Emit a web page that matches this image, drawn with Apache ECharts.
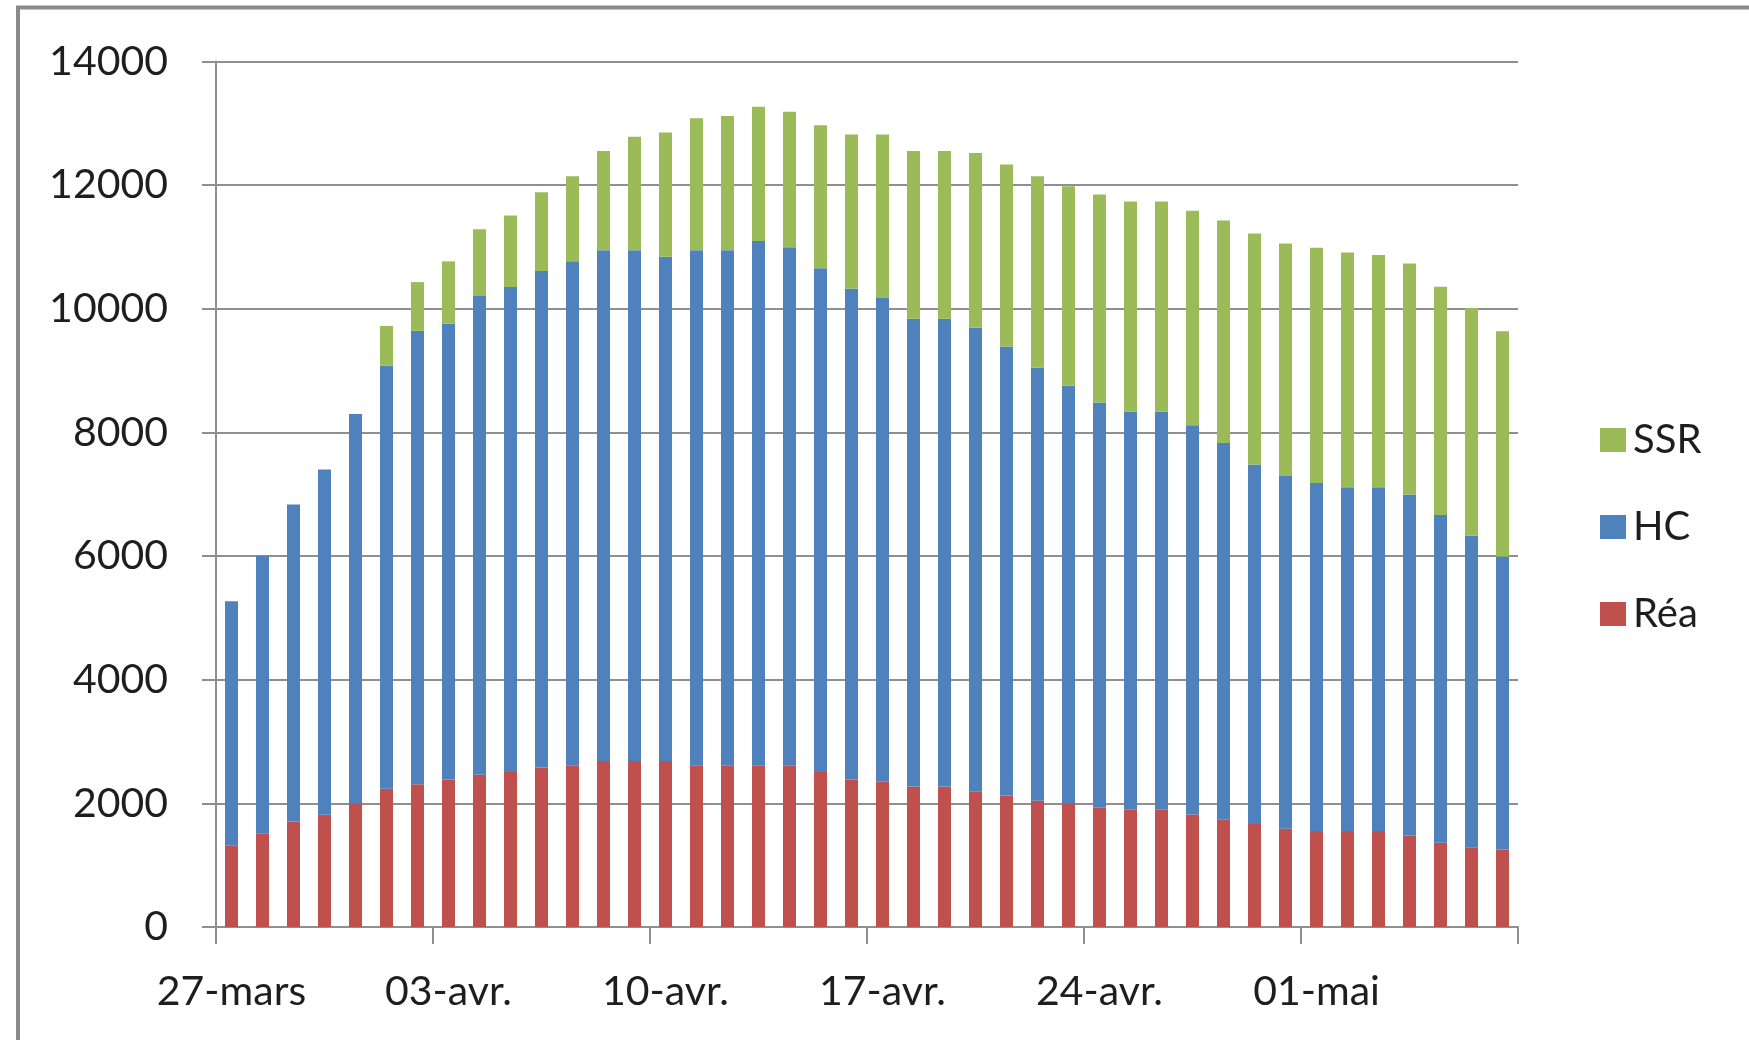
<!DOCTYPE html>
<html>
<head>
<meta charset="utf-8">
<script src="https://cdn.jsdelivr.net/npm/echarts@6/dist/echarts.min.js"></script>
<style>
  html, body { margin: 0; padding: 0; background: #fff; }
  #chart { width: 1749px; height: 1040px; }
</style>
</head>
<body>
<div id="chart"></div>
<script>
// Daily dates, 27 March to 7 May
const dates = [
  '27-mars','28-mars','29-mars','30-mars','31-mars',
  '01-avr.','02-avr.','03-avr.','04-avr.','05-avr.','06-avr.','07-avr.','08-avr.','09-avr.','10-avr.',
  '11-avr.','12-avr.','13-avr.','14-avr.','15-avr.','16-avr.','17-avr.','18-avr.','19-avr.','20-avr.',
  '21-avr.','22-avr.','23-avr.','24-avr.','25-avr.','26-avr.','27-avr.','28-avr.','29-avr.','30-avr.',
  '01-mai','02-mai','03-mai','04-mai','05-mai','06-mai','07-mai'
];

// Réanimation
const rea = [
  1324, 1515, 1706, 1815, 2006, 2235, 2311, 2387, 2463, 2507,
  2578, 2616, 2687, 2687, 2687, 2616, 2616, 2616, 2616, 2507,
  2387, 2349, 2273, 2273, 2196, 2126, 2044, 2006, 1929, 1897,
  1897, 1820, 1744, 1668, 1591, 1553, 1553, 1553, 1477, 1363,
  1292, 1254
];

// Hospitalisation conventionnelle
const hc = [
  3944, 4491, 5130, 5586, 6294, 6849, 7332, 7371, 7744, 7845,
  8033, 8151, 8258, 8258, 8154, 8329, 8329, 8479, 8381, 8150,
  7936, 7824, 7566, 7566, 7499, 7263, 7005, 6749, 6555, 6443,
  6443, 6295, 6083, 5813, 5706, 5629, 5559, 5559, 5520, 5300,
  5037, 4740
];

// Soins de suite et réadaptation
const ssr = [
     0,    0,    0,    0,    0,  639,  789, 1009, 1078, 1158,
  1274, 1377, 1608, 1839, 2012, 2139, 2173, 2173, 2190, 2311,
  2495, 2645, 2714, 2714, 2824, 2945, 3095, 3228, 3366, 3395,
  3395, 3470, 3602, 3735, 3758, 3804, 3799, 3758, 3735, 3694,
  3683, 3643
];

const yTicks = { min: 0, max: 14000, interval: 2000 };

const FONT = 'Lato, "Liberation Sans", sans-serif';
const TEXT = '#1e1e1e';
const GRID = '#8f8f8f';

const chart = echarts.init(document.getElementById('chart'), null, { renderer: 'canvas' });

const barStyle = (name, data, color) => ({
  name: name,
  type: 'bar',
  stack: 'total',
  data: data,
  barWidth: '42%',
  itemStyle: { color: color },
  emphasis: { disabled: true }
});

chart.setOption({
  animation: false,
  backgroundColor: '#ffffff',
  graphic: [{
    type: 'rect',
    shape: { x: 18, y: 7.5, width: 1900, height: 1200 },
    style: { fill: 'none', stroke: '#8a8a8a', lineWidth: 4 },
    silent: true
  }],
  grid: { left: 216, right: 231, top: 61.5, bottom: 113, containLabel: false },
  legend: {
    orient: 'vertical',
    left: 1595,
    top: 413,
    itemWidth: 26,
    itemHeight: 24,
    itemGap: 43,
    icon: 'rect',
    data: ['SSR', 'HC', 'Réa'],
    textStyle: { fontFamily: FONT, fontSize: 40, color: TEXT, padding: [0, 0, 0, 2], lineHeight: 44 }
  },
  xAxis: {
    type: 'category',
    data: dates,
    boundaryGap: true,
    axisLine: { show: true, lineStyle: { color: GRID, width: 2 } },
    axisTick: { show: true, interval: 6, length: 17, lineStyle: { color: GRID, width: 2 } },
    axisLabel: {
      interval: 6,
      margin: 44,
      fontFamily: FONT,
      fontSize: 41,
      color: TEXT
    },
    splitLine: { show: false }
  },
  yAxis: {
    type: 'value',
    min: yTicks.min,
    max: yTicks.max,
    interval: yTicks.interval,
    axisLine: { show: true, lineStyle: { color: GRID, width: 2 } },
    axisTick: { show: true, length: 14, lineStyle: { color: GRID, width: 2 } },
    axisLabel: {
      margin: 48,
      fontFamily: FONT,
      fontSize: 41,
      color: TEXT,
      formatter: (v) => String(v)
    },
    splitLine: { show: true, lineStyle: { color: GRID, width: 2 } }
  },
  series: [
    barStyle('Réa', rea, '#C0504D'),
    barStyle('HC', hc, '#4F81BD'),
    barStyle('SSR', ssr, '#9BBB59')
  ]
});
</script>
</body>
</html>
